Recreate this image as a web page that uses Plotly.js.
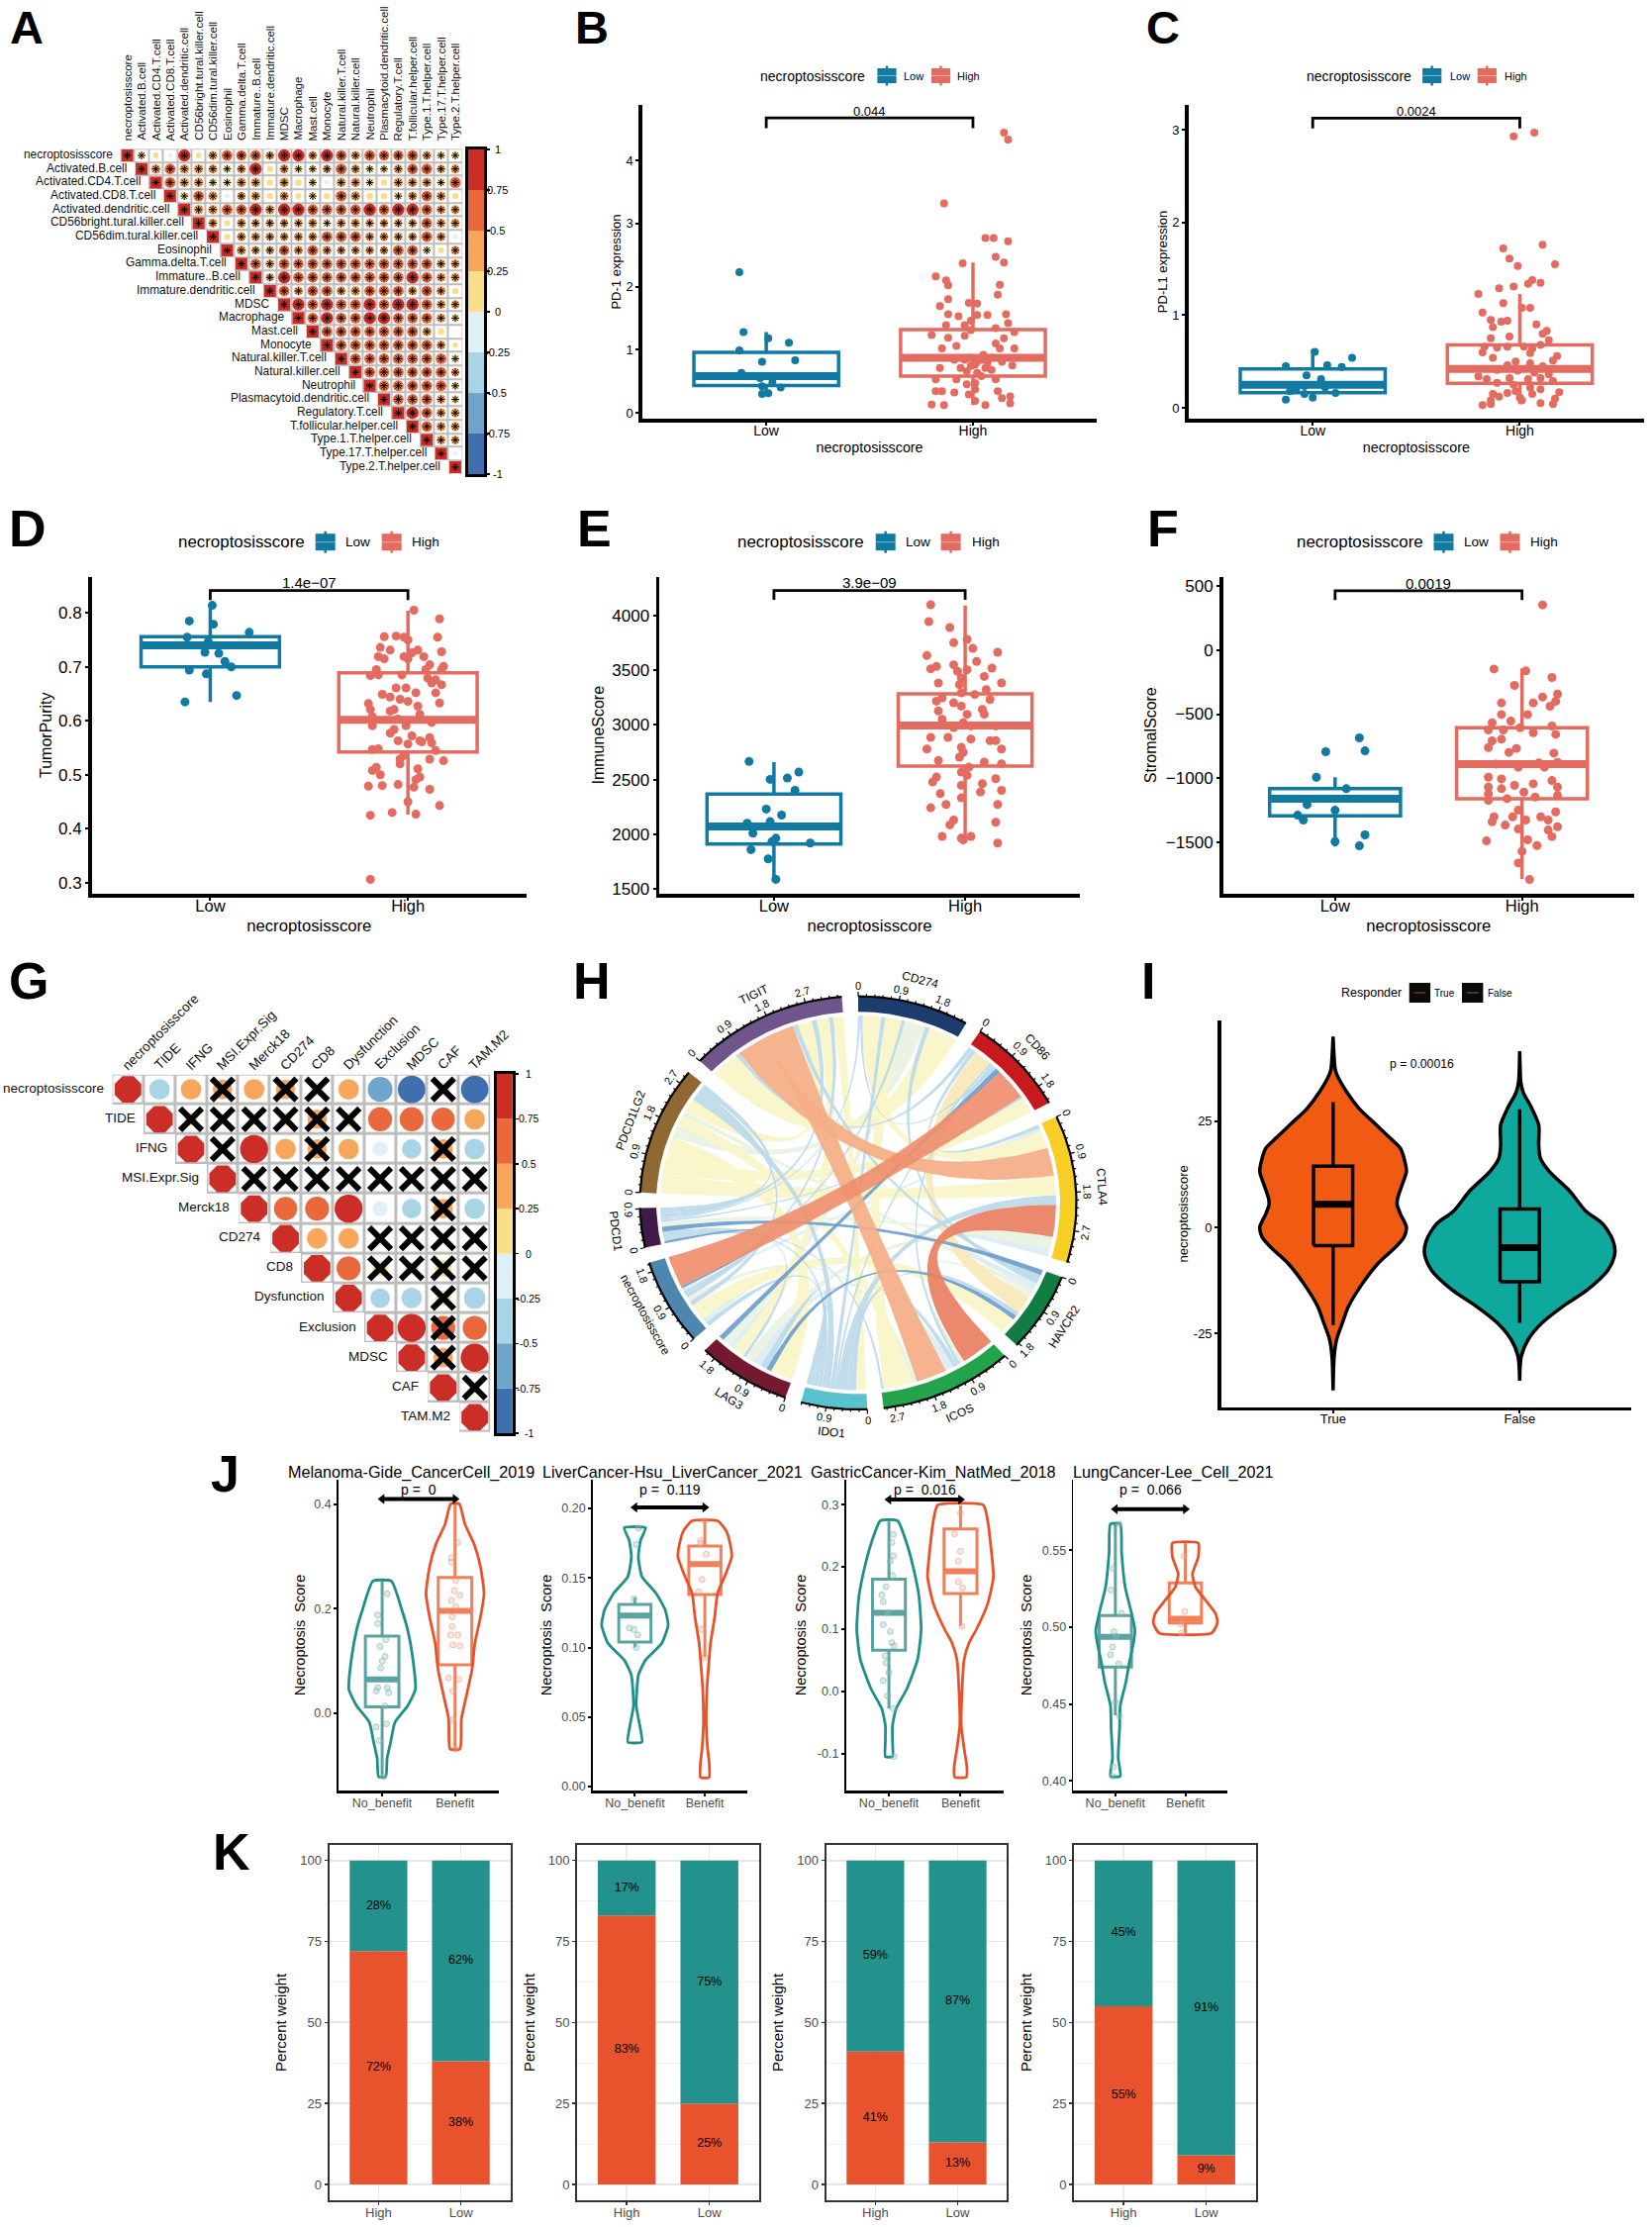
<!DOCTYPE html>
<html><head><meta charset="utf-8">
<script src="https://cdn.plot.ly/plotly-3.0.1.min.js"></script>
<style>html,body{margin:0;padding:0;background:#fff}</style></head>
<body><div id="chart" style="width:1669px;height:2250px"></div>
<script>
// ---------- Panel A ----------
const aLabels=["necroptosisscore","Activated.B.cell","Activated.CD4.T.cell","Activated.CD8.T.cell","Activated.dendritic.cell","CD56bright.tural.killer.cell","CD56dim.tural.killer.cell","Eosinophil","Gamma.delta.T.cell","Immature..B.cell","Immature.dendritic.cell","MDSC","Macrophage","Mast.cell","Monocyte","Natural.killer.T.cell","Natural.killer.cell","Neutrophil","Plasmacytoid.dendritic.cell","Regulatory.T.cell","T.follicular.helper.cell","Type.1.T.helper.cell","Type.17.T.helper.cell","Type.2.T.helper.cell"];
const aRows=[
[1,.2,.1,-.05,.8,.1,.35,.55,.5,.55,.3,.8,.8,.35,.8,.55,.35,.55,.5,.5,.55,.35,.2,.2],
[1,.4,.55,.4,.4,.35,.2,.35,.8,.12,.35,.2,.2,.3,.6,.35,.2,.2,.35,.55,.55,.3,.35],
[1,.55,.4,.4,.2,.2,.4,.4,.12,.4,.15,.2,-.05,.4,.4,.2,.12,.4,.4,.4,.2,.6],
[1,.2,.55,.4,-.05,.3,.35,.12,.35,.12,.2,.12,.6,.4,.15,.12,.2,.35,.55,.35,.12],
[1,.4,.4,.55,.55,.8,.4,.8,.8,.55,.55,.55,.55,.8,.55,.8,.8,.55,.35,.35],
[1,.35,.1,.35,.3,.3,.3,.3,.35,.2,.35,.35,.3,.3,.3,.3,.55,.35,.35],
[1,.1,.35,.35,.3,.3,.35,.35,.55,.55,.55,.35,.35,.3,.3,.55,.35,-.05],
[1,.4,.3,.3,.5,.35,.55,.35,.3,.3,.3,.3,.55,.55,.2,.12,.35],
[1,.55,.35,.55,.5,.55,.55,.55,.55,.55,.55,.55,.55,.55,.35,.35],
[1,.25,.8,.55,.55,.55,.55,.55,.55,.55,.55,.8,.55,.35,.35],
[1,.55,.35,.55,.55,.35,.4,.55,.55,.55,.35,.55,.35,.12],
[1,.8,.55,.8,.55,.55,.8,.55,.8,.8,.55,.35,.3],
[1,.55,.8,.55,.55,.8,.8,.55,.55,.55,.35,.2],
[1,.55,.55,.55,.55,.55,.55,.55,.35,.15],
[1,.55,.55,.55,.55,.55,.55,.55,.35,.08],
[1,.55,.55,.55,.55,.55,.55,.55,.2],
[1,.55,.55,.55,.55,.55,.55,.3],
[1,.55,.55,.55,.55,.55,.2],
[1,.55,.55,.55,.35,.2],
[1,.8,.55,.35,.35],
[1,.55,.35,.35],
[1,.35,.3],
[1,-.05],
[1]];
const corrPalette=["#3F6FAE","#6FA4CB","#A9D4E6","#E0F1F6","#F9DE8C","#F7A65C","#E9683C","#CB2E26"];
const cbTicks=[1,.75,.5,.25,0,-.25,-.5,-.75,-1];
// ---------- Panel G ----------
const gLabels=["necroptosisscore","TIDE","IFNG","MSI.Expr.Sig","Merck18","CD274","CD8","Dysfunction","Exclusion","MDSC","CAF","TAM.M2"];
const gRows=[
[1,-.35,.35,.3,.35,.3,.1,.35,-.6,-.8,.1,-.8],
[1,.1,.05,.05,.1,.3,.1,.55,.55,.5,.35],
[1,.05,.85,.35,.3,.35,-.15,-.3,.3,-.35],
[1,.05,.05,.05,-.05,.05,.05,.05,.05],
[1,.5,.55,.85,-.15,-.3,.3,-.35],
[1,.35,.35,.05,.05,.05,.05],
[1,.55,.15,.1,.2,.05],
[1,-.3,-.35,.15,-.4],
[1,.85,.55,.55],
[1,.3,.85],
[1,.05],
[1]];
const gSignif=[
[1,1,1,0,1,0,0,1,1,1,0,1],
[1,0,0,0,0,0,0,1,1,1,1],
[1,0,1,1,0,1,1,1,0,1],
[1,0,0,0,0,0,0,0,0],
[1,1,1,1,1,1,0,1],
[1,1,1,0,0,0,0],
[1,1,0,0,0,0],
[1,1,1,0,1],
[1,1,0,1],
[1,0,1],
[1,0],
[1]];
// ---------- Panels B-F : [lower whisker, Q1, median, Q3, upper whisker] ----------
const groupNames=["Low","High"];
const bLowBox=[.3,.43,.58,.957,1.28], bHighBox=[.12,.58,.87,1.32,2.38];
const bLowX=[-.13,-.11,.01,.11,-.13,-.02,.14,-.12,-.03,.03,-.02,.07,-.02,.01];
const bLowY=[2.23,1.28,1.18,1.11,.99,.81,.83,.63,.55,.48,.42,.40,.30,.31];
const bHighX=[.15,.17,-.14,.06,.1,.17,.11,-.05,.15,-.18,-.13,-.12,.13,.12,-.12,-.02,.02,-.16,.16,-.12,-.07,.07,.02,-.01,.17,-.13,-.04,-.01,.11,.2,-.2,-.12,-.04,.15,.11,-.15,-.08,.13,.2,.05,-.01,-.09,.14,.07,.01,.19,-.06,.09,-.16,.02,-.08,-.18,.11,.01,-.03,.04,-.18,-.15,-.09,.01,.12,-.02,.18,.14,.01,.18,-.2,-.14,.06,-.04,.04,-.01,.06,.02,-.03,.09];
const bHighY=[4.44,4.33,3.32,2.77,2.77,2.72,2.47,2.37,2.38,2.16,2.10,2.02,2.03,1.87,1.80,1.74,1.73,1.69,1.56,1.56,1.53,1.55,1.55,1.46,1.42,1.39,1.39,1.31,1.34,1.28,1.23,1.19,1.22,1.18,1.10,1.02,1.06,1.02,1.02,.92,.87,.84,.81,.79,.76,.75,.71,.68,.71,.63,.53,.53,.53,.47,.45,.58,.34,.34,.32,.37,.34,.29,.26,.23,.19,.15,.13,.12,.12,.84,.84,.74,.71,.81,.66,.87];
const cLowBox=[.095,.163,.25,.42,.63], cHighBox=[.04,.265,.42,.68,1.23];
const cLowX=[.01,.19,-.13,.07,.14,-.03,.04,-.04,.06,-.11,-.04,.11,0,-.13,-.08];
const cLowY=[.605,.54,.45,.46,.44,.35,.31,.235,.22,.18,.15,.16,.11,.09,.2];
const cHighX=[.07,-.03,.11,-.08,-.05,.17,-.01,.06,.04,.1,-.03,-.1,-.2,-.08,.01,.05,-.18,-.14,-.06,-.09,.08,-.13,.13,.11,-.05,-.14,.14,-.17,-.11,-.06,.02,.06,.1,-.18,.05,.18,-.13,-.02,.05,.16,-.06,.04,.11,-.11,-.01,-.2,.07,.14,-.16,-.05,.04,.1,.16,-.11,-.03,.05,.19,-.13,-.06,-.02,.1,.06,-.1,-.14,.01,.17,.16,.1,-.18,-.14,0];
const cHighY=[2.97,2.93,1.76,1.72,1.61,1.55,1.53,1.38,1.34,1.35,1.31,1.29,1.23,1.13,1.08,1.08,1.03,.95,.94,.93,.9,.87,.83,.80,.77,.75,.73,.66,.65,.66,.66,.64,.68,.60,.59,.56,.54,.50,.48,.51,.46,.43,.45,.41,.40,.34,.38,.36,.31,.32,.31,.32,.29,.27,.25,.22,.17,.15,.16,.18,.2,.15,.12,.08,.08,.1,.04,.05,.03,.04,.11];
const dLowBox=[.635,.70,.74,.756,.814], dHighBox=[.426,.542,.602,.689,.804];
const dLowX=[.01,-.106,.016,.197,-.117,-.01,-.027,.043,.074,.106,-.106,-.02,.133,-.128];
const dLowY=[.814,.785,.779,.764,.755,.747,.727,.725,.71,.70,.694,.687,.647,.635];
const dHighX=[.03,.16,-.12,-.06,-.02,.15,0,-.14,-.09,.05,.17,.02,-.15,-.02,.08,-.12,0,.11,.18,-.16,.09,.17,-.03,-.15,-.19,.1,.14,.12,.17,-.06,-.01,-.13,-.09,.04,.14,-.04,0,.16,-.2,.05,-.19,-.07,-.09,.06,-.18,-.05,.12,-.18,-.01,-.07,-.09,.02,.11,-.05,.06,.07,.12,0,-.15,-.18,.14,-.02,-.04,.11,.18,-.04,-.16,.05,-.18,-.14,.06,.04,-.2,-.13,-.05,.03,.11,0,.16,-.19,-.08,.04,-.19];
const dHighY=[.805,.789,.756,.757,.755,.755,.750,.736,.731,.731,.728,.726,.719,.719,.719,.715,.715,.704,.701,.695,.695,.695,.685,.685,.684,.679,.676,.670,.667,.661,.661,.649,.644,.652,.652,.640,.636,.633,.632,.627,.621,.621,.618,.612,.608,.603,.597,.591,.591,.584,.577,.572,.569,.563,.563,.561,.559,.557,.548,.547,.545,.536,.529,.529,.526,.520,.514,.511,.508,.500,.496,.491,.479,.480,.482,.477,.473,.450,.443,.425,.430,.427,.306];
const eLowBox=[1574,1911,2071,2367,2659], eHighBox=[1935,2623,2993,3283,4090];
const eLowX=[-.13,.13,-.02,.07,.11,-.04,.04,-.14,-.02,-.11,.01,-.01,.19,-.12,-.03,.01];
const eLowY=[2665,2568,2502,2514,2402,2231,2176,2101,2116,2011,1965,1935,1920,1860,1776,1589];
const eHighX=[-.18,-.19,-.08,.01,-.06,.04,.17,-.2,.06,-.06,-.15,.14,-.18,-.04,.01,.1,-.02,-.14,.19,-.03,.11,-.02,.05,-.12,.13,-.15,-.06,-.02,.09,-.14,.01,.1,-.12,-.01,.03,-.06,.16,-.18,-.09,.03,.13,.16,-.2,-.02,.19,-.01,-.03,-.14,.1,.02,.19,-.02,-.15,.01,.16,-.17,.09,-.02,.19,.08,-.13,-.02,.17,-.18,-.1,-.06,-.08,.16,-.12,-.02,.03,.17,-.01];
const eHighY=[4096,3943,3888,3780,3750,3698,3662,3632,3578,3548,3533,3518,3512,3488,3503,3442,3427,3382,3382,3367,3322,3292,3277,3246,3231,3216,3201,3171,3141,3126,3096,3096,3050,3020,2990,2975,2990,2885,2885,2870,2855,2855,2779,2794,2779,2749,2704,2674,2659,2613,2644,2568,2523,2538,2508,2478,2463,2448,2402,2387,2372,2333,2273,2243,2273,2131,2086,2110,1981,1965,1981,1920,1950];
const fLowBox=[-1535,-1295,-1161,-1083,-993], fHighBox=[-1790,-1161,-890,-606,-142];
const fLowX=[.13,-.05,.16,-.1,.06,-.15,0,-.2,-.17,.16,0,.13];
const fLowY=[-686,-794,-787,-993,-1083,-1207,-1251,-1290,-1328,-1444,-1496,-1530];
const fHighX=[.11,-.15,.02,.16,-.04,.19,.11,-.11,.06,.18,.15,.03,-.11,-.16,-.06,.16,-.18,-.1,-.01,.06,.18,-.16,-.11,-.03,-.18,-.07,.17,.09,-.14,.19,-.02,-.18,.12,-.11,.16,-.04,-.18,.06,.19,-.11,.01,-.18,.07,.19,-.08,-.18,-.02,.18,-.15,-.05,.1,.02,-.16,.14,-.09,.19,-.02,.14,.03,.16,-.19,.08,0,-.02,.04];
const fHighY=[354,-147,-162,-214,-276,-343,-366,-412,-412,-400,-438,-503,-503,-567,-554,-593,-624,-624,-606,-645,-658,-709,-696,-768,-761,-799,-805,-882,-890,-877,-915,-993,-915,-1006,-1019,-1057,-1070,-1045,-1070,-1083,-1109,-1122,-1148,-1135,-1161,-1174,-1251,-1264,-1303,-1303,-1303,-1328,-1341,-1328,-1367,-1380,-1398,-1406,-1483,-1457,-1491,-1527,-1573,-1664,-1793];
// ---------- Panel H : [sector a, sector b, width, shade index] ----------
const chordNames=["CD274","CD86","CTLA4","HAVCR2","ICOS","IDO1","LAG3","necroptosisscore","PDCD1","PDCD1LG2","TIGIT"];
const chordColors=["#1D3C6E","#C8191E","#F7CE25","#127C45","#23A44C","#5AC2CF","#751A2E","#4F86B0","#3F1C47","#8F6832","#6F558C"];
const chordShades=["#E97F62","#EF8F6E","#F4AE86","#F8E8B8","#F8F5C8","#E9F3E2","#DCEDF2","#BCD9E9","#6E9ECB"];
const chordFlows=[
[0,1,.06,7],[0,2,.45,4],[0,3,.12,7],[0,4,.40,4],[0,5,.10,7],[0,6,.20,5],[0,7,.08,7],[0,8,.05,7],[0,9,.30,5],[0,10,.70,4],
[1,2,.10,7],[1,3,.45,3],[1,4,.08,7],[1,5,.06,7],[1,6,.13,8],[1,7,.80,1],[1,8,.05,7],[1,9,.42,4],[1,10,.10,7],
[2,3,.18,6],[2,4,.82,0],[2,5,.25,7],[2,6,.22,5],[2,7,.08,6],[2,8,.12,5],[2,9,.50,4],[2,10,.72,2],
[3,4,.10,5],[3,5,.10,7],[3,6,.12,8],[3,7,.42,4],[3,8,.13,8],[3,9,.12,5],[3,10,.12,7],
[4,5,.12,7],[4,6,.20,6],[4,7,.12,5],[4,8,.06,7],[4,9,.30,4],[4,10,.75,2],
[5,6,.16,7],[5,7,.12,7],[5,8,.10,7],[5,9,.20,7],[5,10,.25,4],
[6,7,.12,6],[6,8,.08,7],[6,9,.55,4],[6,10,.30,4],
[7,8,.06,8],[7,9,.12,7],[7,10,.10,7],
[8,9,.15,7],[8,10,.12,7],
[9,10,.35,4]];
const chordOrder=[[8,1,2,5,4,7,6,9,3,10],[10,2,3,5,4,0,6,7,8,9],[1,7,0,10,9,5,4,6,8,3],[8,10,0,2,9,4,1,5,6,7],[2,3,1,5,6,10,7,9,0,8],[10,4,3,2,1,0,9,8,7,6],[9,3,5,4,2,8,10,7,0,1],[5,6,3,9,4,10,0,2,8,1],[7,6,5,4,3,2,1,0,10,9],[2,1,6,0,4,3,10,5,7,8],[0,1,2,4,3,9,8,6,7,5]];
// ---------- Panel I ----------
const iCats=["True","False"];
const iTrueY=[44.9,37.3,36.1,31.8,28,24.1,21,18.6,16.3,13.2,10.1,7,5.4,3.1,0,-2.3,-4.7,-8.5,-13.2,-18.6,-22.5,-26.4,-30.3,-38.4];
const iTrueW=[0,.011,.019,.074,.139,.232,.306,.361,.38,.393,.371,.347,.343,.361,.393,.38,.334,.241,.158,.083,.05,.019,.006,0];
const iFalseY=[41.5,34.2,31.8,28,24.1,19.4,16.3,13.2,8.5,3.9,.8,-3.1,-6.2,-10.1,-14.8,-18.6,-22.5,-26.4,-30.3,-36.1];
const iFalseW=[0,.006,.019,.065,.102,.102,.111,.158,.269,.352,.445,.5,.51,.473,.361,.232,.12,.046,.009,0];
const iTrueBox=[-23.1,-4.3,5.4,14.4,29.5], iFalseBox=[-22.5,-12.8,-4.8,4.3,27.8];
// ---------- Panel J ----------
const jCats=["No_benefit","Benefit"];
const jTitles=["Melanoma-Gide_CancerCell_2019","LiverCancer-Hsu_LiverCancer_2021","GastricCancer-Kim_NatMed_2018","LungCancer-Lee_Cell_2021"];
const jP=["p =\u00a0 0","p =\u00a0 0.119","p =\u00a0 0.016","p =\u00a0 0.066"];
const j1NY=[.253,.197,.16,.109,.046,.0145,-.017,-.055,-.086,-.121], j1NW=[.126,.272,.35,.417,.456,.35,.175,.117,.068,.049];
const j1BY=[.401,.362,.324,.28,.229,.185,.134,.084,.033,-.011,-.068], j1BW=[.058,.136,.262,.35,.398,.35,.272,.233,.155,.087,.068];
const j1NBox=[-.121,.0126,.065,.148,.253], j1BBox=[-.068,.093,.196,.26,.401];
const j1NPx=[.07,-.06,-.06,.05,-.03,.04,0,-.02,-.06,.07,.09,-.08,.04,.06,-.08,-.04,.02];
const j1NPy=[.229,.188,.172,.141,.128,.109,.1,.087,.049,.049,.04,.043,.0145,-.02,-.026,-.052,-.121];
const j1BPx=[.04,-.05,-.05,.01,-.01,.07,-.05,.01,-.04,-.04,-.06,.04,.07,-.03,-.09,.05,-.03,-.03,.01];
const j1BPy=[.327,.298,.289,.254,.235,.226,.216,.204,.185,.166,.15,.15,.129,.131,.068,.065,.043,-.011,-.068];
const j2NY=[.186,.177,.165,.151,.139,.127,.116,.103,.091,.08,.058,.044,.032], j2NW=[.152,.081,.05,.1,.303,.434,.475,.384,.152,.05,.02,.07,.1];
const j2BY=[.191,.184,.174,.165,.151,.139,.122,.103,.091,.07,.044,.027,.018,.0066], j2BW=[.182,.303,.364,.384,.283,.182,.141,.081,.061,.03,.02,.04,.061,.061];
const j2NBox=[.1,.104,.123,.131,.136], j2BBox=[.093,.138,.16,.173,.191];
const j2NPx=[.05,.02,-.01,-.08,-.01,.04,.02], j2NPy=[.186,.174,.135,.114,.113,.109,.1];
const j2BPx=[0,-.06,-.06,.02,-.04,-.09,-.04,0], j2BPy=[.191,.177,.175,.167,.149,.14,.113,.093];
const j3NY=[.274,.237,.194,.152,.099,.051,.004,-.028,-.055,-.081,-.105], j3NW=[.12,.25,.35,.42,.45,.4,.25,.1,.05,.05,.05];
const j3BY=[.299,.274,.237,.184,.141,.099,.078,.051,-.002,-.055,-.092,-.123,-.138], j3BW=[.32,.38,.42,.46,.38,.22,.12,.05,.02,.01,.05,.09,.08];
const j3NBox=[-.028,.066,.126,.18,.274], j3BBox=[.105,.157,.193,.261,.299];
const j3NPx=[.06,.04,.06,.02,.05,-.04,-.1,-.08,-.02,-.08,.02,.04,.07,-.05,-.04,0,-.08,-.02,.06,.07];
const j3NPy=[.252,.239,.218,.209,.186,.168,.155,.144,.126,.107,.096,.078,.073,.057,.046,.03,.017,-.007,-.028,-.105];
const j3BPx=[0,-.08,0,-.03,-.03,.03,.02], j3BPy=[.286,.253,.225,.209,.176,.166,.105];
const j4NY=[.567,.548,.526,.511,.498,.49,.477,.464,.449,.434,.415,.403], j4NW=[.07,.09,.14,.22,.28,.26,.2,.15,.07,.06,.04,.07];
const j4BY=[.5546,.5454,.5347,.5261,.5176,.509,.5036,.4994,.4959], j4BW=[.184,.184,.102,.143,.286,.429,.459,.429,.367];
const j4NBox=[.4426,.474,.4936,.5075,.567], j4BBox=[.4959,.5026,.5054,.5287,.5546];
const j4NPx=[.05,-.03,-.06,.09,-.02,.01,-.04,-.07,.05,0,.06,-.03,-.04], j4NPy=[.567,.538,.524,.509,.497,.494,.487,.482,.476,.451,.442,.409,.403];
const j4BPx=[-.02,-.01,-.07,-.05], j4BPy=[.546,.51,.502,.496];
// ---------- Panel K ----------
const kCats=["High","Low"];
const kRed=[[72,38],[83,25],[41,13],[55,9]];
const kTeal=[[28,62],[17,75],[59,87],[45,91]];

// ---------- helpers ----------
const W=1669,H=2250, FONT='"Liberation Sans",Arial,sans-serif';
const traces=[],annotations=[],shapes=[];
const layout={width:W,height:H,margin:{l:0,r:0,t:0,b:0},paper_bgcolor:'#fff',plot_bgcolor:'rgba(0,0,0,0)',showlegend:false,boxmode:'overlay',barmode:'overlay',font:{family:FONT,color:'#000'},annotations,shapes,hovermode:false};
const xn=n=>n===1?'x':'x'+n, yn=n=>n===1?'y':'y'+n;
const pxX=x=>x/W, pxY=y=>1-y/H;
function axes(n,rect,xo,yo){
  const [l,t,r,b]=rect;
  layout[n===1?'xaxis':'xaxis'+n]=Object.assign({domain:[l/W,r/W],anchor:yn(n),zeroline:false,showgrid:false,fixedrange:true},xo);
  layout[n===1?'yaxis':'yaxis'+n]=Object.assign({domain:[1-b/H,1-t/H],anchor:xn(n),zeroline:false,showgrid:false,fixedrange:true},yo);
}
function note(text,x,y,size,o={}){annotations.push(Object.assign({text,x,y,xref:'paper',yref:'paper',showarrow:false,xanchor:'center',yanchor:'middle',font:{size,family:FONT,color:'#000'}},o));}
function dnote(n,text,x,y,size,o={}){annotations.push(Object.assign({text,x,y,xref:xn(n),yref:yn(n),showarrow:false,xanchor:'center',yanchor:'middle',font:{size,family:FONT,color:'#000'}},o));}
const panel=(t,x,y,s=52)=>note('<b>'+t+'</b>',pxX(x),pxY(y),s);
function add(n,t){t.xaxis=xn(n);t.yaxis=yn(n);t.hoverinfo='skip';traces.push(t);}
function boxT(n,pos,s,color,w,lw,medW){
  add(n,{type:'box',x:[pos],lowerfence:[s[0]],q1:[s[1]],median:[s[2]],q3:[s[3]],upperfence:[s[4]],width:w,whiskerwidth:0,boxpoints:false,fillcolor:'rgba(0,0,0,0)',line:{color,width:lw}});
  add(n,{type:'scatter',mode:'lines',x:[pos-w/2,pos+w/2],y:[s[2],s[2]],line:{color,width:medW}});
}
function boxLines(n,pos,s,color,w,lw,medW){
  const a=pos-w/2,b=pos+w/2;
  add(n,{type:'scatter',mode:'lines',x:[pos,pos,null,pos,pos,null,a,b,b,a,a],y:[s[0],s[1],null,s[3],s[4],null,s[1],s[1],s[3],s[3],s[1]],line:{color,width:lw}});
  add(n,{type:'scatter',mode:'lines',x:[a,b],y:[s[2],s[2]],line:{color,width:medW}});
}
function violinPath(c,ys,ws){
  const xs=[],yy=[];
  ys.forEach((y,i)=>{xs.push(c-ws[i]);yy.push(y);});
  for(let i=ys.length-1;i>=0;i--){xs.push(c+ws[i]);yy.push(ys[i]);}
  xs.push(xs[0]);yy.push(yy[0]);
  return {x:xs,y:yy};
}
const binColor=v=>corrPalette[Math.min(7,Math.floor((v+1)/.25))];

function corrPlot(n,labels,rows,signif,rect,o){
  const N=labels.length, idx=labels.map((_,i)=>i);
  axes(n,rect,{range:[-.5,N-.5],visible:false},{range:[N-.5,-.5],visible:false});
  const mask=idx.map(i=>idx.map(j=>j>=i?1:null));
  add(n,{type:'heatmap',x:idx,y:idx,z:mask,showscale:false,colorscale:[[0,'#BDBDBD'],[1,'#BDBDBD']]});
  add(n,{type:'heatmap',x:idx,y:idx,z:mask,showscale:false,xgap:o.gap,ygap:o.gap,colorscale:[[0,'#fff'],[1,'#fff']]});
  const X=[],Y=[],S=[],C=[],Sym=[],sx=[],sy=[];
  rows.forEach((r,i)=>r.forEach((v,k)=>{
    const j=i+k;X.push(j);Y.push(i);C.push(binColor(Math.min(v,.99)));
    S.push(j===i?o.diag:o.cell*Math.pow(Math.abs(v),o.pow));Sym.push(j===i?o.diagSym:'circle');
    if(signif(i,k,v)){sx.push(j);sy.push(i);}
  }));
  add(n,{type:'scatter',mode:'markers',x:X,y:Y,marker:{size:S,color:C,symbol:Sym,opacity:1,line:{width:0}}});
  add(n,{type:'scatter',mode:'markers',x:sx,y:sy,marker:o.overMarker});
  const pw=(rect[2]-rect[0])/N,ph=(rect[3]-rect[1])/N;
  labels.forEach((t,i)=>{
    note(t,pxX(rect[0]+(i-o.rowGap)*pw),pxY(rect[1]+(i+.5+o.rowDy)*ph),o.rowSize,{xanchor:'right',font:{size:o.rowSize,family:FONT,color:'#111'}});
  });
}
function colorBar(n,rect,labelX,size){
  axes(n,rect,{range:[-.5,.5],visible:true,showticklabels:false,ticks:'',showline:true,mirror:true,linecolor:'#000',linewidth:3},
    {range:[-1,1],side:'right',tickvals:cbTicks,showticklabels:false,ticks:'outside',ticklen:3,tickwidth:1.5,tickcolor:'#000',showline:true,mirror:true,linecolor:'#000',linewidth:3});
  corrPalette.forEach((c,i)=>add(n,{type:'bar',x:[0],y:[.25],base:[-1+i*.25],width:1,marker:{color:c,line:{width:0}}}));
  const [l,t,r,b]=rect;
  cbTicks.forEach(v=>note(String(v),pxX(labelX),pxY(t+(1-v)/2*(b-t)),size));
}
function classic(n,rect,xr,yr,yt,ytt,xt,xtt,o){
  axes(n,rect,
   {range:xr,tickvals:xt,ticktext:xtt,ticks:'outside',ticklen:o.tl||3,tickwidth:2,tickcolor:'#000',showline:true,linecolor:'#000',linewidth:o.lwx,ticklabelstandoff:o.xls||0,tickfont:{size:o.xf,family:FONT,color:o.tc||'#000'},
    title:o.xTitle?{text:o.xTitle,standoff:o.xs,font:{size:o.xtf,family:FONT}}:undefined},
   {range:yr,tickvals:yt,ticktext:ytt,ticks:'outside',ticklen:o.tl||3,tickwidth:2,tickcolor:'#000',showline:true,linecolor:'#000',linewidth:o.lwy,tickfont:{size:o.yf,family:FONT,color:o.tc||'#000'},
    title:{text:o.yTitle,standoff:o.ys,font:{size:o.ytf,family:FONT}}});
}
const LOWC='#107AA3',HIGHC='#E46B60';
function boxPanel(n,rect,yr,yt,ytt,lo,hi,lx,ly,hx,hy,br,pv,o,leg){
  classic(n,rect,[-.6,1.6],yr,yt,ytt,[0,1],groupNames,o);
  boxT(n,0,lo,LOWC,.7,3.5,8);boxT(n,1,hi,HIGHC,.7,3.5,8);
  add(n,{type:'scatter',mode:'markers',x:lx,y:ly,marker:{size:o.ms,color:LOWC}});
  add(n,{type:'scatter',mode:'markers',x:hx.map(v=>v+1),y:hy,marker:{size:o.ms,color:HIGHC}});
  add(n,{type:'scatter',mode:'lines',x:[0,0,1,1],y:[br[1],br[0],br[0],br[1]],line:{color:'#000',width:2.8}});
  dnote(n,pv,.5,br[2],o.pv);
  note('necroptosisscore',pxX(leg.tc),pxY(leg.y),leg.ts);
  [[leg.k1,LOWC,'Low',leg.t1],[leg.k2,HIGHC,'High',leg.t2]].forEach(([k,c,t,tx])=>{
    shapes.push({type:'line',xref:'paper',yref:'paper',x0:pxX(k),x1:pxX(k),y0:pxY(leg.y-leg.wh),y1:pxY(leg.y+leg.wh),line:{color:c,width:2.5}});
    shapes.push({type:'rect',xref:'paper',yref:'paper',x0:pxX(k-leg.kw),x1:pxX(k+leg.kw),y0:pxY(leg.y-leg.kh),y1:pxY(leg.y+leg.kh),fillcolor:c,line:{width:0}});
    shapes.push({type:'line',xref:'paper',yref:'paper',x0:pxX(k-leg.kw),x1:pxX(k+leg.kw),y0:pxY(leg.y),y1:pxY(leg.y),line:{color:'rgba(255,255,255,.45)',width:1}});
    note(t,pxX(tx),pxY(leg.y),leg.ks);
  });
}

// ---------- A ----------
corrPlot(1,aLabels,aRows,(i,k,v)=>k===0||Math.abs(v)>=.16,[121.4,150.2,467.2,478.8],{gap:2,cell:13.4,pow:.35,diag:12,diagSym:'square',rowGap:.4,rowDy:-.08,rowSize:11.9,overMarker:{symbol:'asterisk-open',color:'#000',size:6.5,line:{color:'#000',width:1}}});
aLabels.forEach((t,i)=>dnote(1,t,i,0,11.5,{textangle:-90,yanchor:'bottom',yshift:13,font:{size:11.5,family:FONT,color:'#111'}}));
colorBar(2,[473,151,489.3,479],502.9,11);
panel('A',27,27.5,47);

// ---------- B-F ----------
const smallFont={xf:14,yf:13,xtf:14.3,ytf:13,pv:13,lwx:4,lwy:3.5,ys:3,xs:6,xls:-7,ms:8};
boxPanel(3,[648.8,106,1108.3,423],[-.094,4.88],[0,1,2,3,4],['0','1','2','3','4'],bLowBox,bHighBox,bLowX,bLowY,bHighX,bHighY,[4.675,4.51,4.78],'0.044',
  Object.assign({yTitle:'PD-1 expression',xTitle:'necroptosisscore'},smallFont),{tc:821,y:76.5,ts:14,k1:896,t1:923,k2:950.5,t2:978.9,kw:9.6,kh:7.5,wh:10,ks:11});
boxPanel(4,[1200.7,106,1661,423],[-.117,3.27],[0,1,2,3],['0','1','2','3'],cLowBox,cHighBox,cLowX,cLowY,cHighX,cHighY,[3.127,3.017,3.2],'0.0024',
  Object.assign({yTitle:'PD-L1 expression',xTitle:'necroptosisscore'},smallFont),{tc:1373.3,y:76.5,ts:14,k1:1446.7,t1:1475,k2:1502.3,t2:1531,kw:9.6,kh:7.5,wh:10,ks:11});
const bigFont={xf:16.5,yf:17,xtf:16.7,ytf:16,pv:15,lwx:4.5,lwy:3.5,xs:8,xls:-9,ms:9};
boxPanel(5,[92.6,582.7,532,902.7],[.28,.867],[.3,.4,.5,.6,.7,.8],['0.3','0.4','0.5','0.6','0.7','0.8'],dLowBox,dHighBox,dLowX,dLowY,dHighX,dHighY,[.8415,.824,.856],'1.4e\u221207',
  Object.assign({yTitle:'TumorPurity',xTitle:'necroptosisscore',ys:3},bigFont),{tc:244,y:547.7,ts:16.9,k1:328.7,t1:361.7,k2:395.7,t2:429.8,kw:10,kh:8.5,wh:11,ks:13.5});
boxPanel(6,[666,582.7,1091,902.7],[1460,4352],[1500,2000,2500,3000,3500,4000],['1500','2000','2500','3000','3500','4000'],eLowBox,eHighBox,eLowX,eLowY,eHighX,eHighY,[4226,4142,4296],'3.9e\u221209',
  Object.assign({yTitle:'ImmuneScore',xTitle:'necroptosisscore',ys:4},bigFont),{tc:808.5,y:547.7,ts:16.9,k1:894.7,t1:927.7,k2:960.6,t2:995.7,kw:10,kh:8.5,wh:11,ks:13.5});
boxPanel(7,[1235.5,582.7,1651,902.7],[-1902,574],[-1500,-1000,-500,0,500],['\u22121500','\u22121000','\u2212500','0','500'],fLowBox,fHighBox,fLowX,fLowY,fHighX,fHighY,[464,392,524],'0.0019',
  Object.assign({yTitle:'StromalScore',xTitle:'necroptosisscore',ys:6},bigFont),{tc:1374,y:547.7,ts:16.9,k1:1458.5,t1:1491.5,k2:1525.5,t2:1559.6,kw:10,kh:8.5,wh:11,ks:13.5});
panel('B',598,27.5,47);panel('C',1175,27.5,47);panel('D',28,534);panel('E',600,534);panel('F',1175,534);

// ---------- G ----------
corrPlot(8,gLabels,gRows,(i,k)=>gSignif[i][k]===0,[113.4,1085.6,495.5,1447],{gap:3,cell:30,pow:.35,diag:29,diagSym:'octagon',rowGap:.2,rowDy:-.05,rowSize:13.5,overMarker:{symbol:'x-thin-open',color:'#000',size:22,line:{color:'#000',width:6}}});
gLabels.forEach((t,i)=>dnote(8,t,i-.35,-.5,13.5,{textangle:-45,xanchor:'left',yanchor:'bottom',yshift:-1,font:{size:13.5,family:FONT,color:'#111'}}));
colorBar(9,[501.8,1085,517.9,1448],534,10.5);
panel('G',29,991);

// ---------- H ----------
const CX=867,CY=1215.3,RX=220.5,RY=208.7,EXT=1.25;
axes(10,[CX-RX*EXT,CY-RY*EXT,CX+RX*EXT,CY+RY*EXT],{range:[-EXT,EXT],visible:false},{range:[-EXT,EXT],visible:false});
(function(){
  const GAP=4.3,rad=Math.PI/180,nS=chordNames.length,tot=Array(nS).fill(0);
  chordFlows.forEach(f=>{tot[f[0]]+=f[2];tot[f[1]]+=f[2];});
  const sum=tot.reduce((a,b)=>a+b,0),unit=(360-nS*GAP)/sum,start=[];let cur=0;
  tot.forEach((t,i)=>{start[i]=cur;cur+=t*unit+GAP;});
  const width={};chordFlows.forEach(f=>{width[f[0]+'-'+f[1]]=f[2];width[f[1]+'-'+f[0]]=f[2];});
  const place={};
  chordOrder.forEach((ord,s)=>{let a=start[s];ord.forEach(t=>{const w=width[s+'-'+t]*unit;place[s+'-'+t]=[a,a+w];a+=w;});});
  const pt=(r,d)=>[r*Math.sin(d*rad),r*Math.cos(d*rad)];
  const arc=(r,a,b,st=1.5)=>{const n=Math.max(2,Math.ceil(Math.abs(b-a)/st)),o=[];for(let i=0;i<=n;i++)o.push(pt(r,a+(b-a)*i/n));return o;};
  const bez=(p,q)=>{const o=[];for(let i=1;i<24;i++){const t=i/24,u=1-t;o.push([u*u*p[0]+t*t*q[0],u*u*p[1]+t*t*q[1]]);}return o;};
  const R=.907,layer=[5,6,4,3,7,8,2,1,0];
  const sorted=chordFlows.slice().sort((a,b)=>layer.indexOf(a[3])-layer.indexOf(b[3]));
  sorted.forEach(f=>{
    const A=place[f[0]+'-'+f[1]],B=place[f[1]+'-'+f[0]];
    const a1=arc(R,A[0],A[1]),b1=arc(R,B[0],B[1]);
    const path=[...a1,...bez(a1[a1.length-1],b1[0]),...b1,...bez(b1[b1.length-1],a1[0]),a1[0]];
    add(10,{type:'scatter',mode:'lines',fill:'toself',fillcolor:chordShades[f[3]],opacity:.92,line:{width:0},x:path.map(p=>p[0]),y:path.map(p=>p[1])});
  });
  chordNames.forEach((name,i)=>{
    const a0=start[i],a1=start[i]+tot[i]*unit;
    const o=arc(1,a0,a1),n=arc(.925,a1,a0),ring=[...o,...n,o[0]];
    add(10,{type:'scatter',mode:'lines',fill:'toself',fillcolor:chordColors[i],line:{width:0},x:ring.map(p=>p[0]),y:ring.map(p=>p[1])});
    add(10,{type:'scatter',mode:'lines',line:{color:'#000',width:2.2},x:o.map(p=>p[0]),y:o.map(p=>p[1])});
    const tx=[],ty=[];
    for(let k=0;k*.18<=tot[i]+1e-9;k++){
      const d=a0+k*.18*unit,major=k%5===0,p=pt(1,d),q=pt(major?1.022:1.012,d);
      tx.push(p[0],q[0],null);ty.push(p[1],q[1],null);
      if(major){
        const l=pt(1.052,d),ang=(d>90&&d<=272)?d-180:(d>272?d-360:d);
        dnote(10,k===0?'0':(k*.18).toFixed(1),l[0],l[1],11,{textangle:ang});
      }
    }
    add(10,{type:'scatter',mode:'lines',line:{color:'#000',width:1.2},x:tx,y:ty});
    const m=(a0+a1)/2,l=pt(1.118,m),ang=(m>90&&m<=272)?m-180:(m>272?m-360:m);
    dnote(10,name,l[0],l[1],12,{textangle:ang});
  });
})();
panel('H',598,991);

// ---------- I ----------
classic(11,[1233.7,1031,1648.4,1421.7],[-.6,1.6],[-42.35,48.7],[-25,0,25],['-25','0','25'],[0,1],iCats,{xf:13,yf:13,ytf:13,yTitle:'necroptosisscore',lwx:3.5,lwy:3.5,ys:3,xls:-6});
[[0,iTrueY,iTrueW,'#F05A12',iTrueBox],[1,iFalseY,iFalseW,'#0EA89D',iFalseBox]].forEach(([c,y,w,col,b])=>{
  const p=violinPath(c,y,w);
  add(11,{type:'scatter',mode:'lines',fill:'toself',fillcolor:col,x:p.x,y:p.y,line:{color:'#000',width:3.5,shape:'spline',smoothing:.8}});
  boxLines(11,c,b,'#000',.21,3.5,7);
});
note('p = 0.00016',pxX(1436.7),pxY(1075),12.2);
note('Responder',pxX(1385),pxY(1003),12.5);
[[1434.4,'#6B3A22','True',1459.7],[1487.7,'#1F5F5A','False',1515.7]].forEach(([k,c,t,tx])=>{
  shapes.push({type:'rect',xref:'paper',yref:'paper',x0:pxX(k-10.7),x1:pxX(k+10.7),y0:pxY(993),y1:pxY(1013),fillcolor:'#0A0A0A',line:{width:0}});
  shapes.push({type:'line',xref:'paper',yref:'paper',x0:pxX(k-6),x1:pxX(k+6),y0:pxY(1003),y1:pxY(1003),line:{color:c,width:1.5}});
  note(t,pxX(tx),pxY(1003.5),10);
});
panel('I',1160,991);

// ---------- J ----------
const JT='#1F8F8B',JO='#E8522A',JTB='#5AA3A0',JOB='#F07F5A';
const jSpec=[
 {rect:[341.9,1495,503.9,1809],yr:[-.1475,.447],yt:[0,.2,.4],ytt:['0.0','0.2','0.4'],N:[j1NY,j1NW,j1NBox,j1NPx,j1NPy],B:[j1BY,j1BW,j1BBox,j1BPx,j1BPy],ar:.41,tx:415,px:423.3,ys:5},
 {rect:[599,1495,754.5,1809],yr:[-.0028,.2206],yt:[0,.05,.1,.15,.2],ytt:['0.00','0.05','0.10','0.15','0.20'],N:[j2NY,j2NW,j2NBox,j2NPx,j2NPy],B:[j2BY,j2BW,j2BBox,j2BPx,j2BPy],ar:.2007,tx:679.7,px:676.8,ys:6},
 {rect:[854.7,1495,1013.8,1809],yr:[-.1595,.34],yt:[-.1,0,.1,.2,.3],ytt:['-0.1','0.0','0.1','0.2','0.3'],N:[j3NY,j3NW,j3NBox,j3NPx,j3NPy],B:[j3BY,j3BW,j3BBox,j3BPx,j3BPy],ar:.308,tx:942.9,px:934.6,ys:8},
 {rect:[1084.4,1495,1240,1809],yr:[.3937,.5958],yt:[.4,.45,.5,.55],ytt:['0.40','0.45','0.50','0.55'],N:[j4NY,j4NW,j4NBox,j4NPx,j4NPy],B:[j4BY,j4BW,j4BBox,j4BPx,j4BPy],ar:.5767,tx:1185.2,px:1162.2,ys:7}];
jSpec.forEach((s,i)=>{
  const n=12+i;
  classic(n,s.rect,[-.6,1.6],s.yr,s.yt,s.ytt,[0,1],jCats,{xf:12.5,yf:12.5,ytf:14.5,yTitle:'Necroptosis\u00a0 Score',lwx:2.5,lwy:1.8,ys:s.ys,tc:'#4D4D4D',tl:3,xls:-4});
  [[0,s.N,JT,JTB,'rgba(150,195,190,.35)','rgba(130,175,170,.55)'],[1,s.B,JO,JOB,'rgba(245,170,145,.3)','rgba(235,150,125,.55)']].forEach(([c,d,l,bc,pf,pl])=>{
    const p=violinPath(c,d[0],d[1]);
    add(n,{type:'scatter',mode:'lines',x:p.x,y:p.y,line:{color:l,width:2.8,shape:'spline',smoothing:.5}});
    boxT(n,c,d[2],bc,.46,3,6);
    add(n,{type:'scatter',mode:'markers',x:d[3].map(v=>v+c),y:d[4],marker:{size:6,color:pf,line:{color:pl,width:1}}});
  });
  add(n,{type:'scatter',mode:'lines+markers',x:[0,1],y:[s.ar,s.ar],line:{color:'#000',width:4},marker:{size:9,color:'#000',symbol:['triangle-left','triangle-right']},cliponaxis:false});
  note(jTitles[i],pxX(s.tx),pxY(1487),16.2);
  note(jP[i],pxX(s.px),pxY(1505),14);
});
panel('J',227,1489);

// ---------- K ----------
const kRects=[[332.5,1864,515.5,2222.7],[583.1,1864,766.8,2222.7],[834.5,1864,1017.4,2222.7],[1085.1,1864,1268.8,2222.7]];
kRects.forEach((rect,i)=>{
  const n=16+i;
  axes(n,rect,
   {range:[-.6,1.6],tickvals:[0,1],ticktext:kCats,ticks:'outside',ticklen:3,tickwidth:1.5,tickcolor:'#333',showline:true,mirror:true,linecolor:'#333',linewidth:2,showgrid:true,gridcolor:'#EBEBEB',gridwidth:1.5,ticklabelstandoff:-3,tickfont:{size:13,family:FONT,color:'#4D4D4D'}},
   {range:[-4.8,104.8],tickvals:[0,25,50,75,100],ticktext:['0','25','50','75','100'],ticks:'outside',ticklen:3,tickwidth:1.5,tickcolor:'#333',showline:true,mirror:true,linecolor:'#333',linewidth:2,showgrid:true,gridcolor:'#E6E6E6',gridwidth:1.8,
    minor:{tickvals:[12.5,37.5,62.5,87.5],showgrid:true,gridcolor:'#F0F0F0',gridwidth:1,ticks:''},
    tickfont:{size:13,family:FONT,color:'#4D4D4D'},title:{text:'Percent weight',standoff:10,font:{size:15,family:FONT}}});
  add(n,{type:'bar',x:[0,1],y:kRed[i],base:[0,0],width:.7,marker:{color:'#E8522D',line:{width:0}}});
  add(n,{type:'bar',x:[0,1],y:kTeal[i],base:kRed[i],width:.7,marker:{color:'#23918C',line:{width:0}}});
  add(n,{type:'scatter',mode:'text',x:[0,1,0,1],y:[kRed[i][0]/2,kRed[i][1]/2,kRed[i][0]+kTeal[i][0]/2,kRed[i][1]+kTeal[i][1]/2],text:[...kRed[i],...kTeal[i]].map(v=>v+'%'),textfont:{size:12.5,family:FONT,color:'#000'},textposition:'middle center'});
});
panel('K',234,1871);

Plotly.newPlot('chart',traces,layout,{displayModeBar:false,staticPlot:true});
</script></body></html>
